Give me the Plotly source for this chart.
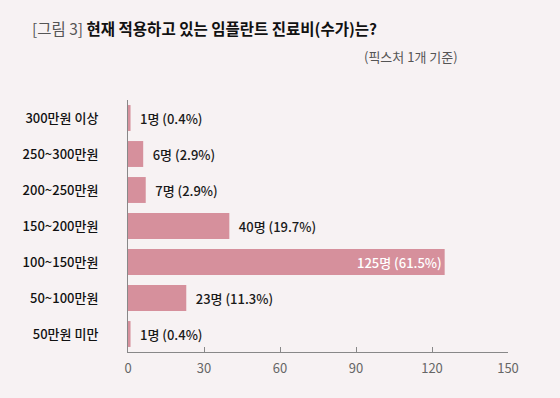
import plotly.graph_objects as go

categories = ["300만원 이상", "250~300만원", "200~250만원", "150~200만원", "100~150만원", "50~100만원", "50만원 미만"]
counts = [1, 6, 7, 40, 125, 23, 1]
percents = [0.4, 2.9, 2.9, 19.7, 61.5, 11.3, 0.4]
x_ticks = [0, 30, 60, 90, 120, 150]

labels = [f"{c}명 ({p}%)" if c > 100 else f"\u2002{c}명 ({p}%)" for c, p in zip(counts, percents)]
positions = ["inside" if c > 100 else "outside" for c in counts]
text_colors = ["white" if c > 100 else "#1a1a1a" for c in counts]

FONT = "Noto Sans CJK KR"
BAR = "#d6909c"
BG = "#f7f2f3"

fig = go.Figure(go.Bar(
    y=categories, x=counts, orientation="h",
    marker=dict(color=BAR, line=dict(width=0)),
    text=labels, textposition=positions,
    insidetextanchor="end",
    textfont=dict(family=FONT, size=13, color=text_colors, weight=500),
    outsidetextfont=dict(family=FONT, size=13, color="#1a1a1a", weight=500),
    insidetextfont=dict(family=FONT, size=13, color="white", weight=500),
    cliponaxis=False,
))

fig.update_layout(
    width=560, height=398,
    margin=dict(l=128, r=52, t=100, b=46, autoexpand=False),
    paper_bgcolor=BG, plot_bgcolor=BG,
    bargap=0.28,
    showlegend=False,
    font=dict(family=FONT, color="#222222"),
    title=dict(
        text="<span style='color:#555555;font-weight:normal'>[그림 3]</span> <b>현재 적용하고 있는 임플란트 진료비(수가)는?</b>",
        xref="container", yref="container", x=32/560, y=1-30/398,
        xanchor="left", yanchor="middle",
        font=dict(family=FONT, size=15.5, color="#111111"),
    ),
    annotations=[dict(
        text="(픽스처 1개 기준)", xref="paper", yref="paper",
        x=(460-128)/380, y=(352-57)/252, xanchor="right", yanchor="middle",
        showarrow=False, font=dict(family=FONT, size=13, color="#555555"),
    )],
)

fig.update_xaxes(
    range=[0, 150], tickvals=x_ticks, ticktext=[str(v) for v in x_ticks],
    showgrid=False, zeroline=False, automargin=False,
    showline=True, linecolor="#888888", linewidth=1,
    ticks="inside", ticklen=5, tickcolor="#888888",
    ticklabelstandoff=4,
    tickfont=dict(family=FONT, size=13, color="#666666"),
)
fig.update_yaxes(
    categoryorder="array", categoryarray=categories[::-1],
    showgrid=False, zeroline=False, automargin=False,
    showline=True, linecolor="#888888", linewidth=1,
    ticks="", ticklabelstandoff=26,
    tickfont=dict(family=FONT, size=13, color="#111111", weight=500),
)

fig.write_html(
    "out.html",
    config={"displayModeBar": False},
    post_script="document.body.style.margin='0';document.body.style.background='" + BG + "';",
)
